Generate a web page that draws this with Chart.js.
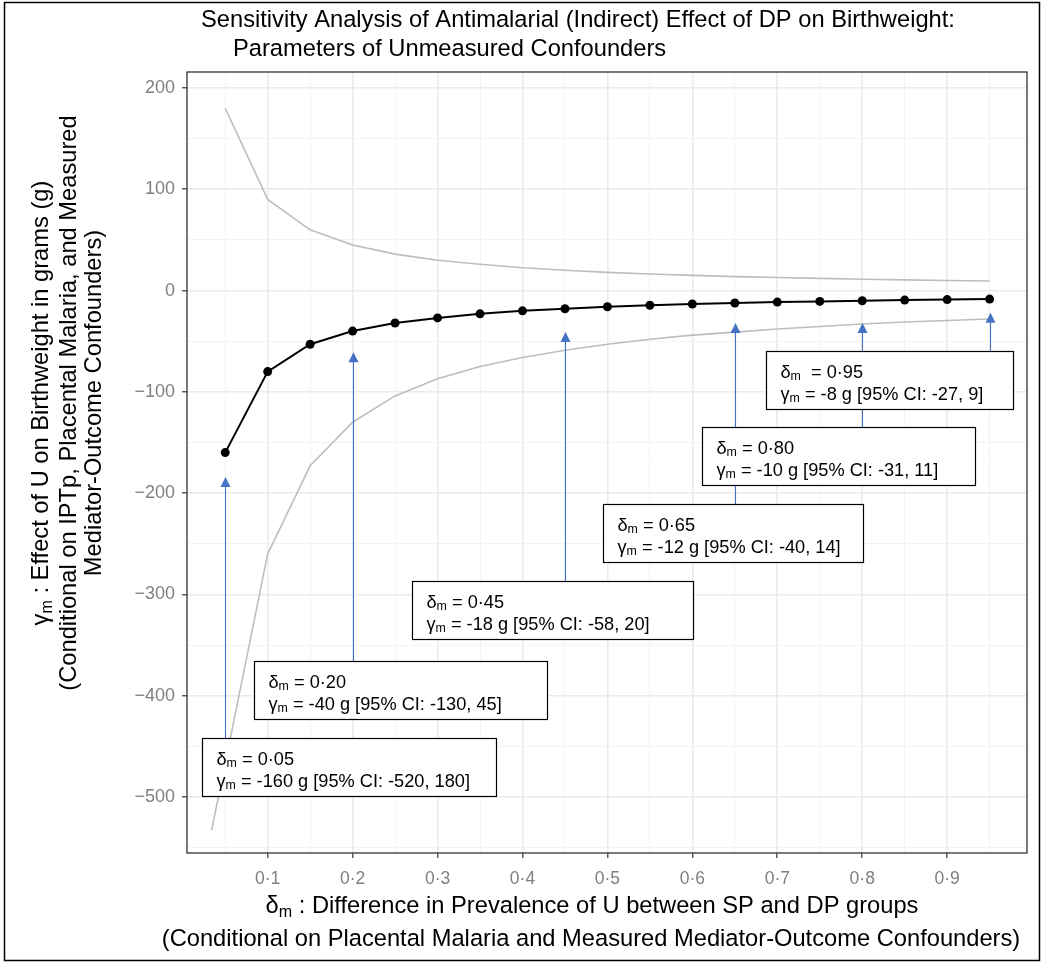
<!DOCTYPE html>
<html>
<head>
<meta charset="utf-8">
<script src="https://cdn.jsdelivr.net/npm/chart.js@4.4.0/dist/chart.umd.min.js"></script>
<style>
  html, body { margin: 0; padding: 0; background: #fff; }
  canvas { display: block; }
</style>
</head>
<body>
<canvas id="chart" width="1044" height="965"></canvas>
<script>
// values
const deltaM   = [0.05, 0.10, 0.15, 0.20, 0.25, 0.30, 0.35, 0.40, 0.45, 0.50, 0.55, 0.60, 0.65, 0.70, 0.75, 0.80, 0.85, 0.90, 0.95];
const gammaEst = [-160, -80, -53, -40, -32, -27, -23, -20, -18, -16, -14.5, -13.3, -12.3, -11.4, -10.7, -10, -9.4, -8.9, -8.4];
const upperCI  = [180, 90, 60, 45, 36, 30, 26, 22.5, 20, 18, 16.4, 15, 13.8, 12.9, 12, 11.2, 10.6, 10, 9.5];
const lowerX   = [0.034, 0.10, 0.15, 0.20, 0.25, 0.30, 0.35, 0.40, 0.45, 0.50, 0.55, 0.60, 0.65, 0.70, 0.75, 0.80, 0.85, 0.90, 0.95];
const lowerCI  = [-533, -260, -173, -130, -104, -87, -75, -66, -59, -53, -48, -44, -41, -38, -35.5, -33, -31, -29.5, -28];

const xTickVals = [0.05, 0.10, 0.15, 0.20, 0.25, 0.30, 0.35, 0.40, 0.45, 0.50, 0.55, 0.60, 0.65, 0.70, 0.75, 0.80, 0.85, 0.90, 0.95];
const yTickVals = [-550, -500, -450, -400, -350, -300, -250, -200, -150, -100, -50, 0, 50, 100, 150, 200];

// labelled points
const noteDelta = [0.05, 0.20, 0.45, 0.65, 0.80, 0.95];
const noteDeltaText = ['0·05', '0·20', '0·45', '0·65', '0·80', '0·95'];
const noteGamma = [-160, -40, -18, -12, -10, -8];
const noteLow   = [-520, -130, -58, -40, -31, -27];
const noteHigh  = [180, 45, 20, 14, 11, 9];
const arrowTip  = [-184, -61, -41, -32, -32, -22];

// where each label box sits (data units for the corner, px for the width)
const boxLeft  = [0.0229, 0.0841, 0.270, 0.4947, 0.611, 0.6865];
const boxTop   = [-441.7, -365.7, -286.7, -210.7, -134.6, -59.6];
const boxWidth = [294, 293, 281, 260, 273, 247];
const boxHeight = 58;

const FONT = '"Liberation Sans", Arial, Helvetica, sans-serif';
const ARROW = '#4472c4';
const TITLE_SIZE = 23.7;
const NOTE_SIZE = 18.2;

function subText(ctx, x, y, parts, size, align) {
  const fontFor = s => (s ? size * 0.68 : size) + 'px ' + FONT;
  let total = 0;
  parts.forEach(([t, s]) => { ctx.font = fontFor(s); total += ctx.measureText(t).width; });
  let cx = align === 'center' ? x - total / 2 : x;
  ctx.textAlign = 'left';
  ctx.textBaseline = 'alphabetic';
  parts.forEach(([t, s]) => {
    ctx.font = fontFor(s);
    ctx.fillText(t, cx, s ? y + size * 0.15 : y);
    cx += ctx.measureText(t).width;
  });
}

const isMajorX = v => Math.abs(v * 10 - Math.round(v * 10)) < 1e-6;
const isMajorY = v => Math.abs(v % 100) < 1e-6;

const overlay = {
  id: 'overlay',
  afterDatasetsDraw(chart) {
    const { ctx, chartArea: a, scales: { x, y } } = chart;
    ctx.save();
    // panel border
    ctx.strokeStyle = '#333';
    ctx.lineWidth = 1.3;
    ctx.strokeRect(a.left, a.top, a.right - a.left, a.bottom - a.top);

    // arrows from boxes up to the curve
    noteDelta.forEach((d, i) => {
      const px = Math.round(x.getPixelForValue(d)) + 0.5;
      const tip = y.getPixelForValue(arrowTip[i]);
      const tail = y.getPixelForValue(boxTop[i]);
      ctx.strokeStyle = ARROW;
      ctx.lineWidth = 1.1;
      ctx.beginPath();
      ctx.moveTo(px, tail);
      ctx.lineTo(px, tip + 8);
      ctx.stroke();
      ctx.fillStyle = ARROW;
      ctx.beginPath();
      ctx.moveTo(px, tip);
      ctx.lineTo(px - 5, tip + 10);
      ctx.lineTo(px + 5, tip + 10);
      ctx.closePath();
      ctx.fill();
    });

    // label boxes
    noteDelta.forEach((d, i) => {
      const bx = Math.round(x.getPixelForValue(boxLeft[i])) + 0.5;
      const by = Math.round(y.getPixelForValue(boxTop[i])) + 0.5;
      ctx.fillStyle = '#fff';
      ctx.fillRect(bx, by, boxWidth[i], boxHeight);
      ctx.strokeStyle = '#000';
      ctx.lineWidth = 1.2;
      ctx.strokeRect(bx, by, boxWidth[i], boxHeight);
      ctx.fillStyle = '#000';
      const eq = i === 5 ? '  = ' : ' = ';
      subText(ctx, bx + 14, by + 26, [['δ', 0], ['m', 1], [eq + noteDeltaText[i], 0]], NOTE_SIZE, 'left');
      subText(ctx, bx + 14, by + 48, [['γ', 0], ['m', 1],
        [' = ' + noteGamma[i] + ' g [95% CI: ' + noteLow[i] + ', ' + noteHigh[i] + ']', 0]], NOTE_SIZE, 'left');
    });
    ctx.restore();
  },
  afterDraw(chart) {
    const { ctx } = chart;
    ctx.save();
    ctx.fillStyle = '#000';
    // title
    subText(ctx, 201, 27, [['Sensitivity Analysis of Antimalarial (Indirect) Effect of DP on Birthweight:', 0]], TITLE_SIZE, 'left');
    subText(ctx, 233, 56, [['Parameters of Unmeasured Confounders', 0]], TITLE_SIZE, 'left');
    // x axis title
    subText(ctx, 592, 913, [['δ', 0], ['m', 1], [' : Difference in Prevalence of U between SP and DP groups', 0]], TITLE_SIZE, 'center');
    subText(ctx, 591, 946, [['(Conditional on Placental Malaria and Measured Mediator-Outcome Confounders)', 0]], TITLE_SIZE, 'center');
    // y axis title
    ctx.translate(0, 403);
    ctx.rotate(-Math.PI / 2);
    subText(ctx, 0, 48, [['γ', 0], ['m', 1], [' : Effect of U on Birthweight in grams (g)', 0]], TITLE_SIZE, 'center');
    subText(ctx, 0, 76, [['(Conditional on IPTp, Placental Malaria, and Measured', 0]], TITLE_SIZE, 'center');
    subText(ctx, 0, 101, [['Mediator-Outcome Confounders)', 0]], TITLE_SIZE, 'center');
    ctx.restore();
    // outer frame
    ctx.save();
    ctx.strokeStyle = '#000';
    ctx.lineWidth = 1.5;
    ctx.strokeRect(4.5, 2.5, 1035, 958);
    ctx.restore();
  }
};

const toPts = (xs, ys) => xs.map((v, i) => ({ x: v, y: ys[i] }));

new Chart(document.getElementById('chart'), {
  type: 'line',
  data: {
    datasets: [
      {
        label: 'Upper 95% CI',
        data: toPts(deltaM, upperCI),
        borderColor: '#bdbdbd',
        borderWidth: 1.6,
        pointRadius: 0,
        tension: 0
      },
      {
        label: 'Lower 95% CI',
        data: toPts(lowerX, lowerCI),
        borderColor: '#bdbdbd',
        borderWidth: 1.6,
        pointRadius: 0,
        tension: 0
      },
      {
        label: 'Estimate',
        data: toPts(deltaM, gammaEst),
        borderColor: '#000',
        backgroundColor: '#000',
        borderWidth: 2,
        pointRadius: 4.5,
        pointBorderWidth: 0,
        tension: 0
      }
    ]
  },
  options: {
    responsive: false,
    animation: false,
    devicePixelRatio: 1,
    layout: { padding: { left: 0, top: 72, right: 17, bottom: 0 } },
    plugins: {
      legend: { display: false },
      title: { display: false },
      tooltip: { enabled: false }
    },
    scales: {
      x: {
        type: 'linear',
        min: 0.005,
        max: 0.994,
        afterBuildTicks: s => { s.ticks = xTickVals.map(v => ({ value: v })); },
        afterFit: s => { s.height = 112; },
        border: { display: false },
        grid: {
          color: c => isMajorX(c.tick.value) ? '#ebebeb' : '#f3f3f3',
          lineWidth: c => isMajorX(c.tick.value) ? 1.6 : 1,
          tickColor: c => isMajorX(c.tick.value) ? '#333' : 'rgba(0,0,0,0)',
          tickLength: 5,
          tickWidth: 1.2
        },
        ticks: {
          autoSkip: false,
          maxRotation: 0,
          padding: 11,
          color: '#808080',
          font: { family: FONT, size: 17.5 },
          callback: v => isMajorX(v) ? v.toFixed(1).replace('.', '·') : ''
        }
      },
      y: {
        type: 'linear',
        min: -555.3,
        max: 215.8,
        afterBuildTicks: s => { s.ticks = yTickVals.map(v => ({ value: v })); },
        afterFit: s => { s.width = 187; },
        border: { display: false },
        grid: {
          color: c => isMajorY(c.tick.value) ? '#ebebeb' : '#f3f3f3',
          lineWidth: c => isMajorY(c.tick.value) ? 1.6 : 1,
          tickColor: c => isMajorY(c.tick.value) ? '#333' : 'rgba(0,0,0,0)',
          tickLength: 5,
          tickWidth: 1.2
        },
        ticks: {
          autoSkip: false,
          padding: 7,
          color: '#808080',
          font: { family: FONT, size: 18 },
          callback: v => isMajorY(v) ? String(v).replace('-', '\u2212') : ''
        }
      }
    }
  },
  plugins: [overlay]
});
</script>
</body>
</html>
